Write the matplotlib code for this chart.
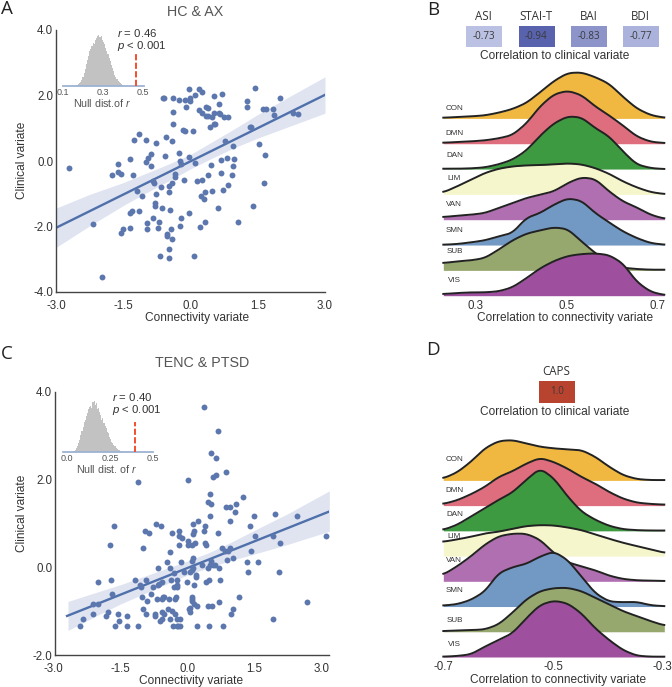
import numpy as np
import matplotlib
matplotlib.use("Agg")
import matplotlib.pyplot as plt
from matplotlib.colors import LinearSegmentedColormap

W, H = 672, 687
plt.rcParams.update({
    "font.family": ["Liberation Sans", "DejaVu Sans"],
    "mathtext.fontset": "custom",
    "mathtext.rm": "Liberation Sans",
    "mathtext.it": "Liberation Sans:italic",
})

# ---------- Panel A data ----------
a_x = [-2.70,-2.18,-1.98,-1.74,-1.62,-1.61,-1.56,-1.36,-1.28,-1.25,-1.15,-1.19,-1.08,-0.99,-0.99,-0.94,-0.88,-0.89,-0.83,-0.82,
       -0.77,-0.76,-0.79,-0.79,-0.63,-0.66,-0.57,-0.55,-0.62,-0.58,-0.38,-0.39,-0.39,-0.41,-0.26,-0.12,-0.01,-0.02,-0.03,-0.10,
       -0.16,-0.12,0.06,0.09,0.20,0.26,0.20,0.26,0.34,0.39,0.35,0.38,0.52,0.70,0.63,0.53,0.64,0.66,0.49,0.55,
       0.52,0.44,0.74,0.84,1.26,1.26,1.44,1.99,1.62,1.68,1.83,1.87,2.29,2.40,1.32,1.34,1.53,1.66,1.65,1.39,
       1.05,0.78,0.94,0.98,0.81,0.67,0.95,0.46,0.69,0.92,0.83,0.73,0.40,0.48,0.32,0.23,0.30,0.25,0.15,0.61,
       0.33,0.22,0.07,-0.04,0.09,-0.03,-0.25,-0.23,-0.21,-0.34,-0.34,-0.14,-0.42,-0.49,-0.49,-0.45,-0.21,-0.24,-0.44,-0.52,
       -0.52,-0.41,-0.47,-0.47,-0.67,-0.71,-0.73,-0.84,-0.96,-0.96,-1.14,-1.31,-1.34,-1.36,-1.51,-1.54]
a_y = [-0.22,-1.93,-3.55,-0.42,-0.10,-0.33,-0.39,0.06,-0.44,0.64,0.82,-0.91,-1.08,0.65,-0.03,0.09,0.20,-0.16,-0.62,-0.67,
       0.56,-1.00,-1.27,-1.38,-1.44,-0.80,0.16,0.73,1.92,1.92,1.92,1.51,1.12,0.60,1.85,1.86,1.92,1.83,2.20,1.65,
       0.94,0.92,0.93,2.02,2.20,2.12,1.57,1.46,1.66,1.62,1.36,1.36,1.99,2.05,1.74,1.48,1.48,1.43,1.33,1.13,
       1.13,1.04,1.33,1.34,1.84,1.66,2.23,1.91,1.60,1.59,1.58,1.39,1.48,1.42,1.03,1.05,0.53,0.19,-0.68,-1.37,
       -1.87,0.60,0.47,0.05,0.09,0.04,-0.14,-0.12,-0.37,-0.44,-0.72,-0.88,-0.43,-0.91,-0.96,-1.08,-1.16,-0.58,-0.60,-1.43,
       -1.85,-2.01,-2.91,-1.60,-0.05,0.12,0.24,-0.01,-0.08,-0.39,-0.49,-0.58,-0.68,-0.75,-0.96,-1.49,-1.73,-2.00,-2.08,-2.22,
       -2.28,-2.38,-2.69,-2.97,-2.91,-1.85,-2.04,-1.75,-1.90,-2.09,-1.54,-1.53,-1.59,-2.06,-2.07,-2.20]
a_fit_x = [-3.0, 3.0]
a_fit_y = [-2.04, 2.02]
a_ci_x = [-3.0,-2.25,-1.5,-1.0,-0.5,0.0,0.5,1.0,1.5,2.25,3.0]
a_ci_lo = [-2.64,-1.98,-1.36,-0.98,-0.62,-0.24,0.10,0.42,0.70,1.08,1.46]
a_ci_hi = [-1.44,-1.02,-0.66,-0.38,-0.10,0.20,0.60,1.00,1.42,2.00,2.57]
a_hist_r = np.linspace(0.159, 0.411, 45)
a_hist = [1,3,5,8,11,14,20,28,40,52,66,80,92,105,112,122,130,128,140,146,150,155,148,152,140,132,128,115,105,98,85,75,64,55,45,35,28,22,17,12,9,6,4,2,1]

# ---------- Panel C data ----------
c_x = [-2.40,-2.34,-2.10,-2.10,-2.00,-1.99,-1.81,-1.78,-1.72,-1.70,-1.68,-1.64,-1.61,-1.55,-1.52,-1.35,-1.34,-1.16,-1.10,-1.11,
       -1.06,-1.03,-1.01,-0.99,-0.93,-0.98,-0.94,-0.85,-0.93,-0.90,-0.82,-0.77,-0.73,-0.72,-0.70,-0.59,-0.66,-0.66,-0.63,-0.68,
       -0.57,-0.56,-0.54,-0.51,-0.56,-0.51,-0.56,-0.60,-0.46,-0.43,-0.38,-0.38,-0.36,-0.40,-0.34,-0.39,-0.34,-0.30,-0.29,-0.26,
       -0.28,-0.27,-0.24,-0.31,-0.22,-0.16,-0.20,-0.16,-0.22,-0.22,-0.22,-0.19,-0.18,-0.11,-0.19,-0.15,-0.07,-0.01,0.02,0.02,
       0.01,0.10,0.18,0.14,0.16,0.14,0.25,0.10,0.12,0.06,0.10,0.14,0.20,0.20,0.16,0.10,0.10,0.10,0.04,0.07,
       0.07,0.16,0.22,0.21,0.49,0.79,0.47,0.55,0.43,0.48,0.34,0.46,0.51,0.53,0.58,0.63,0.71,0.74,0.72,0.40,
       0.41,0.38,0.40,0.69,0.51,0.46,0.53,0.51,0.38,0.69,0.54,0.65,0.57,0.65,0.87,0.87,0.96,1.09,1.06,1.25,
       0.95,0.78,0.85,0.95,0.92,0.89,1.02,1.34,1.36,1.43,1.41,1.50,1.51,1.58,1.16,1.02,0.99,1.93,1.97,2.45,
       2.08,2.05,1.93,2.68,3.10]
c_y = [-1.34,-1.18,-0.84,-1.07,-0.84,-0.34,-1.12,-1.01,0.50,-0.28,-0.62,0.94,-1.34,-1.06,-1.23,-1.12,-1.34,-0.28,-1.34,1.94,
       -0.40,-0.45,-0.67,-0.95,-1.06,0.44,0.82,0.77,-0.28,-0.78,-0.62,-0.45,-1.06,-1.11,0.99,0.94,-0.01,-0.40,-0.38,-0.73,
       -0.34,-0.73,-0.67,-0.67,-1.01,-1.06,-1.17,-1.22,0.11,-0.95,0.34,-0.01,-0.28,-0.73,-0.99,-1.17,0.77,-0.13,-0.46,-0.67,
       -0.73,-1.06,-1.17,-1.34,-1.34,-1.34,-1.34,-1.17,-0.28,-0.40,-0.45,0.72,0.82,0.66,0.50,0.11,-0.11,-0.34,1.99,0.60,
       0.50,0.50,0.55,0.76,0.82,0.99,1.05,0.15,0.21,-0.11,-0.06,-0.01,-0.18,-0.23,-0.40,-0.67,-0.73,-0.78,-0.95,-1.01,
       -0.92,-0.84,-0.89,-1.34,-1.34,-1.34,-0.89,-0.89,-0.34,-0.28,0.05,-0.01,0.06,0.15,0.06,0.05,-0.01,-0.28,-0.79,0.55,
       0.50,0.82,0.94,0.77,1.16,1.49,1.44,1.66,3.66,3.10,2.60,2.49,2.05,2.10,2.16,1.37,1.37,1.44,1.27,1.60,
       1.05,0.44,0.38,0.44,0.38,0.16,0.21,0.11,-0.12,0.38,0.94,1.16,0.72,0.11,-0.67,-0.95,-1.06,0.72,1.21,1.16,
       0.55,-0.12,-1.17,-0.79,0.72]
c_fit_x = [-2.69, 3.18]
c_fit_y = [-1.11, 1.27]
c_ci_x = [-2.67,-2.0,-1.5,-1.0,-0.5,0.0,0.5,1.0,1.5,2.25,3.18]
c_ci_lo = [-1.44,-1.09,-0.84,-0.62,-0.40,-0.18,0.00,0.16,0.30,0.52,0.82]
c_ci_hi = [-0.78,-0.56,-0.40,-0.22,-0.04,0.14,0.34,0.58,0.84,1.22,1.74]
c_hist_r = np.linspace(0.038, 0.317, 45)
c_hist = [1,3,6,10,16,25,36,50,62,75,88,95,108,115,128,135,138,130,148,152,140,145,128,132,118,110,95,102,85,78,70,60,55,45,38,30,26,20,16,12,9,6,4,2,1]

# ---------- Ridge data ----------
networks = ["CON","DMN","DAN","LIM","VAN","SMN","SUB","VIS"]
net_colors = ["#f0b840","#de6e7e","#3d9a40","#f6f6cc","#b06fb0","#7299c4","#96a86e","#9e4f9e"]
b_grid = np.linspace(0.228, 0.715, 17)
b_density = {
 "CON":[.2,.4,.6,.9,1.7,2.8,4.6,7.8,11.2,13.6,13.8,12.4,10.4,6.5,3.0,1.0,.2],
 "DMN":[.3,.5,.7,1.0,1.6,2.6,6.0,11.2,14.8,15.9,14.6,11.2,8.5,5.5,2.2,.6,.2],
 "DAN":[.1,.1,.2,.5,1.4,2.8,5.5,10.0,13.7,15.8,15.5,12.3,9.8,5.3,1.4,.3,0],
 "LIM":[.6,2.4,4.4,6.4,7.7,8.4,8.7,8.8,9.0,9.3,9.0,7.9,6.2,3.9,2.1,.7,.1],
 "VAN":[.8,1.2,1.5,2.0,3.5,5.0,6.5,7.5,8.5,11.0,12.7,12.2,8.5,5.5,3.7,1.5,.3],
 "SMN":[.1,.3,.8,1.4,2.6,3.6,8.1,9.6,12.1,14.0,13.3,9.6,6.8,4.1,2.1,.6,.1],
 "SUB":[2.2,2.7,3.0,3.7,6.2,9.0,11.0,12.0,12.9,12.4,8.7,5.2,2.2,.8,.4,.2,.2],
 "VIS":[.5,.8,1.0,1.0,1.3,2.5,5.2,8.2,10.4,11.9,12.5,12.7,12.2,9.7,4.2,1.2,.2],
}
d_grid = np.linspace(-0.70, -0.297, 17)
d_density = {
 "CON":[.6,2.4,5.6,9.6,11.8,12.1,11.1,10.1,9.6,9.3,9.1,7.1,4.1,1.6,.4,.1,.1],
 "DMN":[.5,1.6,3.4,5.6,8.6,10.3,12.6,14.3,13.1,11.1,8.6,6.6,4.1,2.1,.9,.5,.3],
 "DAN":[.3,1.8,4.3,6.8,9.3,11.5,15.3,18.7,15.8,10.3,5.8,3.3,1.5,.5,.2,.1,.1],
 "LIM":[4.3,5.0,5.8,6.8,7.3,8.2,9.0,9.3,9.2,8.6,7.8,6.5,5.2,4.0,3.0,2.0,1.0],
 "VAN":[2.0,4.5,7.5,11.0,13.5,14.3,14.3,12.5,8.5,5.7,4.5,3.3,1.7,.7,.3,.2,.1],
 "SMN":[.3,.7,2.0,4.5,10.0,11.8,12.8,15.0,16.5,14.0,9.0,4.0,1.5,1.3,1.4,.4,.1],
 "SUB":[.2,.4,.5,.7,2.2,5.7,9.7,12.2,13.1,13.2,12.2,10.2,8.2,6.2,4.7,3.2,1.9],
 "VIS":[.1,.3,.8,3.1,5.1,7.1,11.6,15.6,16.9,16.1,13.1,8.6,5.1,2.1,.4,.1,.1],
}

# ---------- Heat cell data ----------
b_scales = ["ASI","STAI-T","BAI","BDI"]
b_corr = [-0.73,-0.94,-0.83,-0.77]
d_scales = ["CAPS"]
d_corr = [1.0]

corr_cmap = LinearSegmentedColormap.from_list("corr", [
    (0.0, "#4a54a5"), (0.03, "#5a64ae"), (0.085, "#8f97cc"), (0.115, "#adb4dc"),
    (0.135, "#bcc3e3"), (0.5, "#ffffff"), (1.0, "#b8432f")])

TXT = "#333333"
GREY = "#555555"
BLUE = "#5b77ae"
LINE = "#4f70ab"
BAND = "#dfe4f0"

fig = plt.figure(figsize=(W/100, H/100), dpi=100)

def px_axes(l, t, r, b):
    ax = fig.add_axes([l/W, 1-b/H, (r-l)/W, (b-t)/H])
    ax.patch.set_alpha(0)
    return ax

def label(x, y, s, **kw):
    kw.setdefault("ha", "center"); kw.setdefault("va", "center"); kw.setdefault("color", TXT)
    return fig.text(x/W, 1-y/H, s, **kw)

def scatter_panel(box, xlim, ylim, xs, ys, fx, fy, cx, lo, hi, yticks, left_pos=None):
    ax = px_axes(*box)
    ax.fill_between(cx, lo, hi, color=BAND, lw=0, zorder=1)
    ax.scatter(xs, ys, s=18, color=BLUE, lw=0, zorder=3, clip_on=False)
    ax.plot(fx, fy, color=LINE, lw=1.7, zorder=2)
    ax.set_xlim(xlim); ax.set_ylim(ylim)
    ax.set_xticks([-3,-1.5,0,1.5,3]); ax.set_xticklabels(["-3.0","-1.5","0.0","1.5","3.0"])
    ax.set_yticks(yticks); ax.set_yticklabels([f"{v:.1f}" for v in yticks])
    ax.tick_params(axis="x", length=0, labelsize=8.3, labelcolor=TXT, pad=5.5)
    ax.tick_params(axis="y", length=0, labelsize=8.3, labelcolor=TXT, pad=2)
    for s in ("top","right"):
        ax.spines[s].set_visible(False)
    for s in ("left","bottom"):
        ax.spines[s].set_color("#444444"); ax.spines[s].set_linewidth(1.0)
    if left_pos is not None:
        ax.spines["left"].set_position(("data", left_pos))
        ax.spines["bottom"].set_bounds(left_pos, xlim[1])
    return ax

def inset(box, xlim, rs, hs, red_r, red_h, ticks, ticklabels, ymax):
    ax = px_axes(*box)
    ax.bar(rs, hs, width=(rs[1]-rs[0])*1.02, color="#c2c2c2", lw=0)
    ax.vlines(red_r, 0, red_h, color="#f0502f", lw=1.4, linestyles=(0,(3.2,1.2)), zorder=3)
    ax.set_xlim(xlim); ax.set_ylim(0, ymax)
    ax.set_yticks([])
    ax.set_xticks(ticks); ax.set_xticklabels(ticklabels)
    ax.tick_params(length=0, labelsize=6.5, labelcolor=GREY, pad=1.5)
    for s in ("top","right","left"):
        ax.spines[s].set_visible(False)
    ax.spines["bottom"].set_color("#9db3d3"); ax.spines["bottom"].set_linewidth(1.3)

def smooth_curve(grid, vals):
    xx = np.linspace(grid[0], grid[-1], 320)
    yy = np.interp(xx, grid, vals)
    k = 17
    pad = np.r_[np.full(k//2, yy[0]), yy, np.full(k//2, yy[-1])]
    return xx, np.convolve(pad, np.ones(k)/k, mode="valid")

def ridges(box, grid, dens, step, ticks, ticklabels):
    ax = px_axes(*box)
    n = len(networks)
    for i, (name, col) in enumerate(zip(networks, net_colors)):
        base = (n-1-i)*step
        xx, yy = smooth_curve(grid, dens[name])
        z = 2+i
        ax.fill_between(xx, base, base+yy, color=col, lw=0, zorder=z)
        ax.plot(xx, base+yy, color="#222222", lw=1.4, zorder=z+0.5, clip_on=False)
    ax.set_xlim(grid[0], grid[-1]); ax.set_ylim(0, 70)
    ax.set_yticks([])
    ax.set_xticks(ticks); ax.set_xticklabels(ticklabels)
    ax.tick_params(length=0, labelsize=8.3, labelcolor=TXT, pad=3)
    for s in ax.spines.values():
        s.set_visible(False)
    return ax

def cell(box, v):
    ax = px_axes(*box)
    ax.imshow([[v]], cmap=corr_cmap, vmin=-1, vmax=1, aspect="auto")
    ax.axis("off")
    ax.text(0, 0, f"{v:.2f}" if abs(v) < 1 else f"{v:.1f}", ha="center", va="center",
            fontsize=7, family="Open Sans", color="#3a3a3a")

# Panel A
scatter_panel((56, 30, 325, 292), (-3, 3), (-4, 4), a_x, a_y, a_fit_x, a_fit_y, a_ci_x, a_ci_lo, a_ci_hi,
              [-4,-2,0,2,4])
inset((63.3, 30, 144, 86.3), (0.1, 0.507), a_hist_r, a_hist, 0.465, 102, [0.1,0.3,0.5], ["0.1","0.3","0.5"], 169)
label(116.7, 33, r"$\it{r}$ = 0.46", ha="left", fontsize=8.2)
label(116.7, 46, r"$\it{p}$ < 0.001", ha="left", fontsize=8.2)
label(102, 103, r"Null dist.of $\it{r}$", fontsize=7.7, color=GREY)
label(195, 12, "HC & AX", fontsize=10.3, color=GREY)
label(197, 318, "Connectivity variate", fontsize=8.6)
label(22, 160, "Clinical variate", fontsize=8.6, rotation=90)

# Panel C
scatter_panel((50.1, 391.7, 329.3, 655), (-3.07, 3.18), (-2, 4), c_x, c_y, c_fit_x, c_fit_y, c_ci_x, c_ci_lo, c_ci_hi,
              [-2,0,2,4], left_pos=-2.96)
inset((63.3, 391.7, 153.3, 451.7), (-0.019, 0.5), c_hist_r, c_hist, 0.394, 90, [0,0.25,0.5], ["0.0","0.25","0.5"], 180)
label(112, 397, r"$\it{r}$ = 0.40", ha="left", fontsize=8.2)
label(112, 410, r"$\it{p}$ < 0.001", ha="left", fontsize=8.2)
label(107, 469, r"Null dist. of $\it{r}$", fontsize=7.7, color=GREY)
label(202, 363, "TENC & PTSD", fontsize=10.3, color=GREY)
label(191, 681, "Connectivity variate", fontsize=8.6)
label(22, 513, "Clinical variate", fontsize=8.6, rotation=90)

# Panel letters
for x, y, s in [(7, 9, "A"), (433, 10, "B"), (7, 354, "C"), (433, 350, "D")]:
    label(x, y, s, fontsize=13.5, family="Open Sans", color="#222222")

# Panel B
ridges((443.3, 62.4, 664.3, 295.7), b_grid, b_density, 7.6, [0.3,0.5,0.7], ["0.3","0.5","0.7"])
for cx_z, s, v in zip([191,349,506,662], b_scales, b_corr):
    label(420+cx_z/3, 17, s, fontsize=8.3, family="Open Sans")
    cell((420+(cx_z-53)/3, 25.5, 420+(cx_z+53)/3, 47.5), v)
label(555, 56, "Correlation to clinical variate", fontsize=8.6)
label(565, 318, "Correlation to connectivity variate", fontsize=8.6)
for s, y_z in zip(networks, [325,400,467,535,613,690,755,843]):
    label(420+103/3, y_z/3, s, fontsize=5.8, zorder=20)

# Panel D
ridges((443.3, 423.7, 664.3, 657), d_grid, d_density, 7.57, [-0.7,-0.5,-0.3], ["-0.7","-0.5","-0.3"])
label(420+410/3, 340+95/3, d_scales[0], fontsize=8.3, family="Open Sans")
cell((420+358/3, 340+123/3, 420+464/3, 340+188/3), d_corr[0])
label(555, 340+215/3, "Correlation to clinical variate", fontsize=8.6)
label(558, 340+1021/3, "Correlation to connectivity variate", fontsize=8.6)
for s, y_z in zip(networks, [358,452,525,590,660,753,840,915]):
    label(420+103/3, 340+y_z/3, s, fontsize=5.8, zorder=20)

fig.savefig("out.png", dpi=100)
